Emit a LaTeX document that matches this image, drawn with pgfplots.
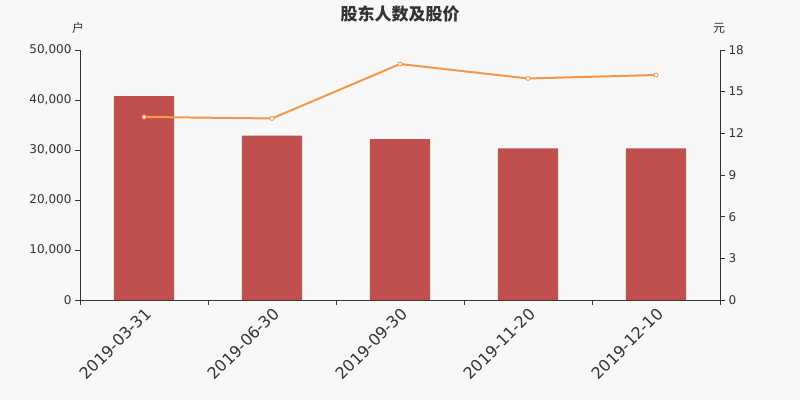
\documentclass[border=0pt]{standalone}
\usepackage{fontspec}
\setmainfont{DejaVu Sans}
\newfontfamily\cjk{Noto Sans CJK SC}
\usepackage{pgfplots}
\pgfplotsset{compat=1.18}
\definecolor{bg}{HTML}{F8F8F8}
\definecolor{barc}{HTML}{C0504E}
\definecolor{linec}{HTML}{F79646}
\definecolor{axc}{HTML}{333333}
\begin{document}
\begin{tikzpicture}
\fill[bg] (0pt,0pt) rectangle (800pt,400pt);
\begin{axis}[
  at={(80pt,100pt)}, anchor=south west, scale only axis,
  width=640pt, height=250pt,
  xmin=-0.5, xmax=4.5, ymin=0, ymax=50000,
  axis x line*=bottom, axis y line*=left,
  axis line style={draw=axc, line width=0.8pt},
  tick align=outside,
  major tick length=5pt, minor tick length=5pt,
  tick style={draw=axc, line width=0.8pt},
  xtick={0,1,2,3,4},
  xticklabels={2019-03-31,2019-06-30,2019-09-30,2019-11-20,2019-12-10},
  major x tick style={draw=none},
  minor xtick={-0.5,0.5,1.5,2.5,3.5,4.5},
  xticklabel style={rotate=45, anchor=north east, font=\fontsize{16}{16}\selectfont, text=axc, inner sep=1pt},
  ytick={0,10000,20000,30000,40000,50000},
  scaled y ticks=false,
  yticklabel style={font=\fontsize{12}{12}\selectfont, text=axc},
  /pgf/number format/.cd, 1000 sep={,}, assume math mode=true,
]
\addplot[ybar, bar width=0.47, bar shift=0pt, fill=barc, draw=none]
  coordinates {(0,40800) (1,32900) (2,32200) (3,30350) (4,30350)};
\end{axis}
\begin{axis}[
  at={(80pt,100pt)}, anchor=south west, scale only axis,
  width=640pt, height=250pt,
  xmin=-0.5, xmax=4.5, ymin=0, ymax=18,
  axis x line=none, axis y line*=right,
  axis line style={draw=axc, line width=0.8pt},
  tick align=outside, major tick length=5pt,
  tick style={draw=axc, line width=0.8pt},
  ytick={0,3,6,9,12,15,18},
  yticklabel style={font=\fontsize{12}{12}\selectfont, text=axc},
  /pgf/number format/assume math mode=true,
  clip=false,
]
\addplot[color=linec, line width=2pt, mark=*, mark size=2pt, mark options={fill=white, draw=linec, line width=0.8pt}]
  coordinates {(0,13.18) (1,13.07) (2,16.99) (3,15.95) (4,16.2)};
\end{axis}
\node[font=\cjk\bfseries\fontsize{17}{17}\selectfont, text=axc] at (400pt,386pt) {股东人数及股价};
\node[font=\cjk\fontsize{12}{12}\selectfont, text=axc] at (78pt,372pt) {户};
\node[font=\cjk\fontsize{12}{12}\selectfont, text=axc] at (719pt,372pt) {元};
\end{tikzpicture}
\end{document}
